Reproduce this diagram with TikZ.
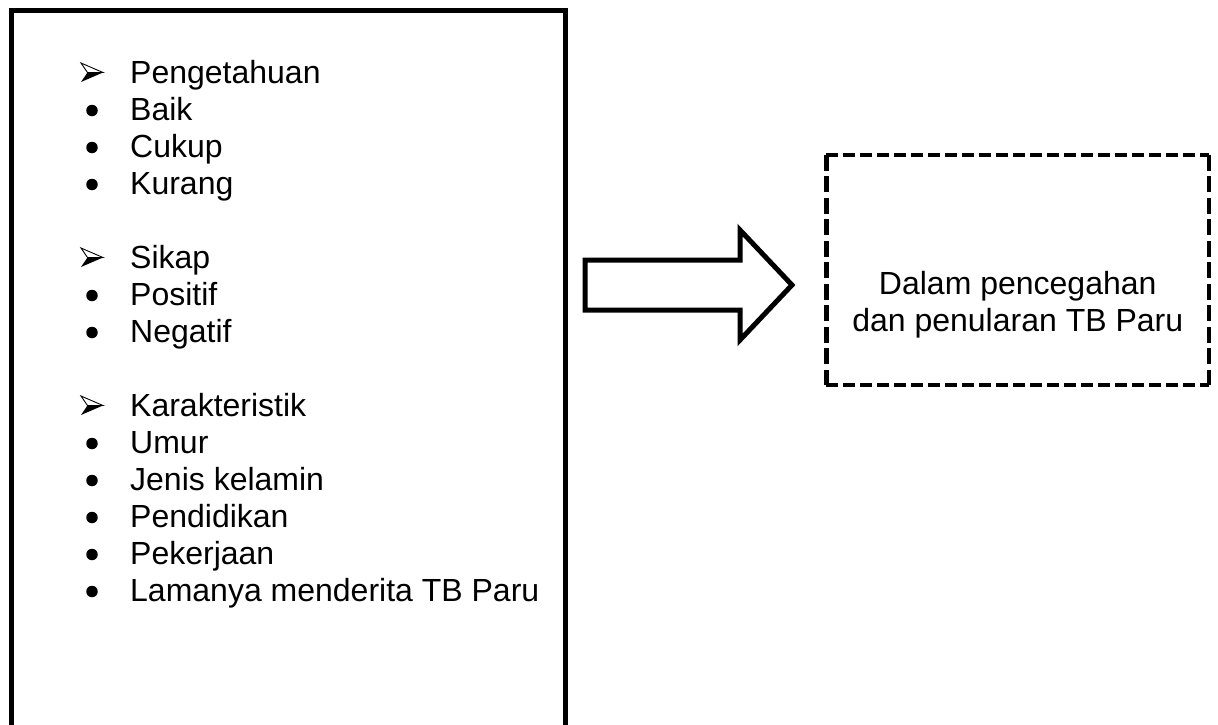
\documentclass[tikz,border=0pt]{standalone}
\usepackage{fontspec}
\setmainfont{Liberation Sans}
\begin{document}
\begin{tikzpicture}[x=1pt,y=-1pt,
  item/.style={anchor=base west, inner sep=0pt, font=\fontsize{32}{38}\selectfont},
  bul/.style={circle, fill=black, inner sep=0pt, minimum size=11.5pt},
  frame/.style={draw, line width=5pt},
  hdash/.style={line width=4.5pt, dash pattern=on 12pt off 5pt},
  vdash/.style={line width=4.5pt, dash pattern=on 16pt off 5.5pt},
  bigarrow/.style={draw, line width=5pt, line join=miter},
  arrmark/.pic={
    \draw[line width=0.9pt, line join=miter] (-11,-9.5) -- (11,0) -- (-4.5,0) -- cycle;
    \fill (-11,9.5) -- (11,0) -- (-4.5,0) -- cycle;
  }]
\useasboundingbox (0,0) rectangle (1218,724);
\clip (0,0) rectangle (1218,724);
% left box
\draw[frame] (11,10) rectangle (565.5,790);
% group headings with arrow markers
\foreach \i/\t in {0/Pengetahuan, 5/Sikap, 9/Karakteristik}{
  \pgfmathsetmacro\yy{83+37*\i}
  \node[item] (t\i) at (130,\yy) {\t};
  \pic at (92,\yy-10.5) {arrmark};
}
% bullet items
\foreach \i/\t in {1/Baik, 2/Cukup, 3/Kurang, 6/Positif, 7/Negatif, 10/Umur, 11/Jenis kelamin, 12/Pendidikan, 13/Pekerjaan, 14/Lamanya menderita TB Paru}{
  \pgfmathsetmacro\yy{83+37*\i}
  \node[item] (t\i) at (130,\yy) {\t};
  \node[bul] (b\i) at (92,\yy-9.5) {};
}
% block arrow
\draw[bigarrow] (585,260) -- (740,260) -- (740,230) -- (792,285) -- (740,340) -- (740,310) -- (585,310) -- cycle;
% dashed target box
\node[inner sep=0pt, minimum width=382.5pt, minimum height=230pt] (target) at (1017.75,270) {};
\draw[hdash] (target.north west) -- (target.north east);
\draw[hdash] (target.south west) -- (target.south east);
\draw[vdash] (target.north west) -- (target.south west);
\draw[vdash] (target.north east) -- (target.south east);
\node[align=center, inner sep=0pt, font=\fontsize{32}{37}\selectfont] (label) at (1017.75,305) {Dalam pencegahan\\dan penularan TB Paru};
\end{tikzpicture}
\end{document}
